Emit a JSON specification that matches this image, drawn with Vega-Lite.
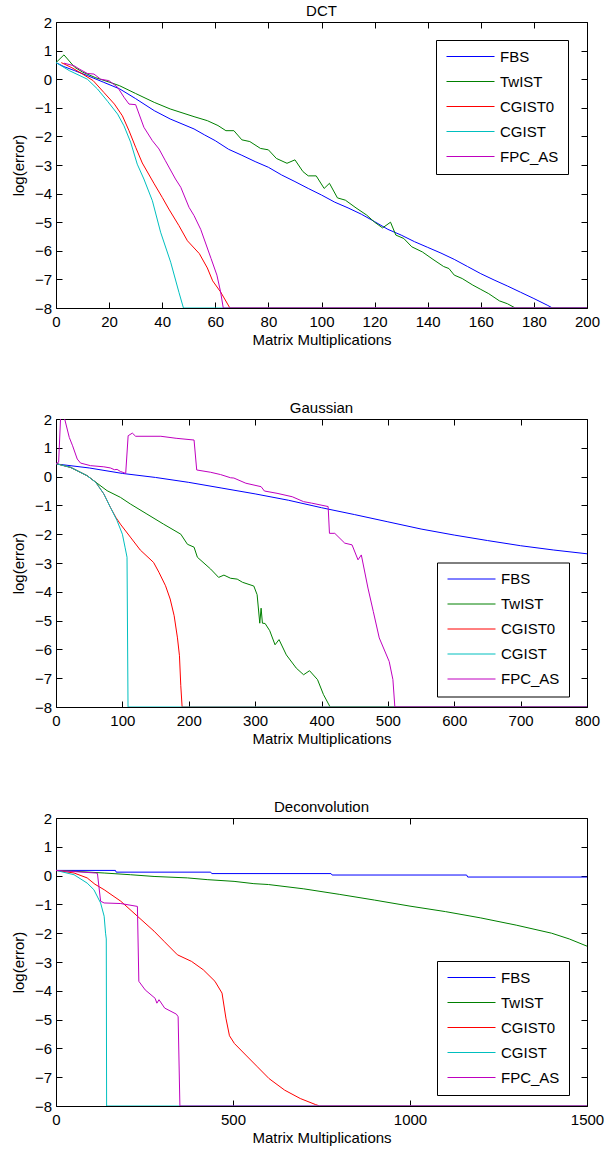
{
  "$schema": "https://vega.github.io/schema/vega-lite/v6.json",
  "background": "white",
  "padding": {"left": 10, "top": 3, "right": 12, "bottom": 2},
  "spacing": 52,
  "config": {
    "font": "Liberation Sans",
    "view": {"stroke": "black", "strokeWidth": 1},
    "axis": {"grid": false, "domain": false, "tickColor": "black", "tickSize": -6, "tickWidth": 1, "labelColor": "black", "labelFontSize": 15, "labelFlush": false, "labelOverlap": false, "titleFontSize": 15, "titleFontWeight": "normal", "titleColor": "black", "format": "d"},
    "axisX": {"titlePadding": 3, "labelPadding": 12.5},
    "axisY": {"titlePadding": 8, "labelPadding": 10.5},
    "title": {"fontSize": 15, "fontWeight": "normal", "color": "black", "offset": -4},
    "legend": {"title": null, "fillColor": "white", "strokeColor": "black", "padding": 9, "symbolType": "M-6,0H42", "symbolSize": 4, "symbolStrokeWidth": 1, "labelFontSize": 15, "labelColor": "black", "labelOffset": 40, "rowPadding": 9, "orient": "none"}
  },
  "data": {"values": [
    {"p":"DCT","s":"FBS","x":0,"y":0.58},{"p":"DCT","s":"FBS","x":3,"y":0.44},{"p":"DCT","s":"FBS","x":7,"y":0.3},{"p":"DCT","s":"FBS","x":12,"y":0.12},{"p":"DCT","s":"FBS","x":18,"y":-0.11},{"p":"DCT","s":"FBS","x":24,"y":-0.34},{"p":"DCT","s":"FBS","x":30,"y":-0.68},{"p":"DCT","s":"FBS","x":37,"y":-1.1},{"p":"DCT","s":"FBS","x":43,"y":-1.39},{"p":"DCT","s":"FBS","x":52,"y":-1.74},{"p":"DCT","s":"FBS","x":56,"y":-1.95},{"p":"DCT","s":"FBS","x":60,"y":-2.15},{"p":"DCT","s":"FBS","x":65,"y":-2.45},{"p":"DCT","s":"FBS","x":70,"y":-2.66},{"p":"DCT","s":"FBS","x":75,"y":-2.88},{"p":"DCT","s":"FBS","x":80,"y":-3.08},{"p":"DCT","s":"FBS","x":85,"y":-3.35},{"p":"DCT","s":"FBS","x":90,"y":-3.58},{"p":"DCT","s":"FBS","x":95,"y":-3.82},{"p":"DCT","s":"FBS","x":100,"y":-4.05},{"p":"DCT","s":"FBS","x":105,"y":-4.3},{"p":"DCT","s":"FBS","x":110,"y":-4.5},{"p":"DCT","s":"FBS","x":115,"y":-4.72},{"p":"DCT","s":"FBS","x":120,"y":-4.98},{"p":"DCT","s":"FBS","x":125,"y":-5.25},{"p":"DCT","s":"FBS","x":130,"y":-5.45},{"p":"DCT","s":"FBS","x":135,"y":-5.68},{"p":"DCT","s":"FBS","x":140,"y":-5.88},{"p":"DCT","s":"FBS","x":145,"y":-6.08},{"p":"DCT","s":"FBS","x":150,"y":-6.3},{"p":"DCT","s":"FBS","x":155,"y":-6.55},{"p":"DCT","s":"FBS","x":160,"y":-6.8},{"p":"DCT","s":"FBS","x":165,"y":-7.02},{"p":"DCT","s":"FBS","x":170,"y":-7.23},{"p":"DCT","s":"FBS","x":175,"y":-7.45},{"p":"DCT","s":"FBS","x":180,"y":-7.67},{"p":"DCT","s":"FBS","x":185,"y":-7.9},{"p":"DCT","s":"FBS","x":187,"y":-8},{"p":"DCT","s":"FBS","x":200,"y":-8},
    {"p":"DCT","s":"TwIST","x":0,"y":0.58},{"p":"DCT","s":"TwIST","x":3,"y":0.85},{"p":"DCT","s":"TwIST","x":7,"y":0.42},{"p":"DCT","s":"TwIST","x":10,"y":0.25},{"p":"DCT","s":"TwIST","x":15,"y":0.05},{"p":"DCT","s":"TwIST","x":20,"y":-0.1},{"p":"DCT","s":"TwIST","x":24,"y":-0.23},{"p":"DCT","s":"TwIST","x":30,"y":-0.5},{"p":"DCT","s":"TwIST","x":37,"y":-0.81},{"p":"DCT","s":"TwIST","x":43,"y":-1.04},{"p":"DCT","s":"TwIST","x":52,"y":-1.31},{"p":"DCT","s":"TwIST","x":57,"y":-1.45},{"p":"DCT","s":"TwIST","x":61,"y":-1.62},{"p":"DCT","s":"TwIST","x":64,"y":-1.8},{"p":"DCT","s":"TwIST","x":67,"y":-1.8},{"p":"DCT","s":"TwIST","x":70,"y":-2.12},{"p":"DCT","s":"TwIST","x":73,"y":-2.18},{"p":"DCT","s":"TwIST","x":77,"y":-2.42},{"p":"DCT","s":"TwIST","x":80,"y":-2.47},{"p":"DCT","s":"TwIST","x":83,"y":-2.77},{"p":"DCT","s":"TwIST","x":87,"y":-2.94},{"p":"DCT","s":"TwIST","x":90,"y":-2.82},{"p":"DCT","s":"TwIST","x":93,"y":-3.23},{"p":"DCT","s":"TwIST","x":95,"y":-3.38},{"p":"DCT","s":"TwIST","x":98,"y":-3.38},{"p":"DCT","s":"TwIST","x":101,"y":-3.82},{"p":"DCT","s":"TwIST","x":103,"y":-3.64},{"p":"DCT","s":"TwIST","x":106,"y":-4.15},{"p":"DCT","s":"TwIST","x":109,"y":-4.23},{"p":"DCT","s":"TwIST","x":113,"y":-4.5},{"p":"DCT","s":"TwIST","x":117,"y":-4.75},{"p":"DCT","s":"TwIST","x":120,"y":-5.0},{"p":"DCT","s":"TwIST","x":123,"y":-5.2},{"p":"DCT","s":"TwIST","x":126,"y":-5.0},{"p":"DCT","s":"TwIST","x":128,"y":-5.45},{"p":"DCT","s":"TwIST","x":131,"y":-5.57},{"p":"DCT","s":"TwIST","x":134,"y":-5.86},{"p":"DCT","s":"TwIST","x":138,"y":-6.04},{"p":"DCT","s":"TwIST","x":142,"y":-6.3},{"p":"DCT","s":"TwIST","x":146,"y":-6.55},{"p":"DCT","s":"TwIST","x":148,"y":-6.62},{"p":"DCT","s":"TwIST","x":150,"y":-6.85},{"p":"DCT","s":"TwIST","x":153,"y":-6.97},{"p":"DCT","s":"TwIST","x":157,"y":-7.2},{"p":"DCT","s":"TwIST","x":160,"y":-7.35},{"p":"DCT","s":"TwIST","x":163,"y":-7.5},{"p":"DCT","s":"TwIST","x":167,"y":-7.75},{"p":"DCT","s":"TwIST","x":170,"y":-7.85},{"p":"DCT","s":"TwIST","x":173,"y":-8},{"p":"DCT","s":"TwIST","x":200,"y":-8},
    {"p":"DCT","s":"CGIST0","x":2,"y":0.58},{"p":"DCT","s":"CGIST0","x":6,"y":0.4},{"p":"DCT","s":"CGIST0","x":10,"y":0.18},{"p":"DCT","s":"CGIST0","x":14,"y":-0.05},{"p":"DCT","s":"CGIST0","x":18,"y":-0.46},{"p":"DCT","s":"CGIST0","x":22,"y":-0.87},{"p":"DCT","s":"CGIST0","x":25,"y":-1.28},{"p":"DCT","s":"CGIST0","x":27.5,"y":-1.8},{"p":"DCT","s":"CGIST0","x":30,"y":-2.38},{"p":"DCT","s":"CGIST0","x":32.5,"y":-2.93},{"p":"DCT","s":"CGIST0","x":37,"y":-3.66},{"p":"DCT","s":"CGIST0","x":40,"y":-4.13},{"p":"DCT","s":"CGIST0","x":42.5,"y":-4.54},{"p":"DCT","s":"CGIST0","x":46.3,"y":-5.12},{"p":"DCT","s":"CGIST0","x":49.5,"y":-5.65},{"p":"DCT","s":"CGIST0","x":54,"y":-6.1},{"p":"DCT","s":"CGIST0","x":57,"y":-6.6},{"p":"DCT","s":"CGIST0","x":59,"y":-7.05},{"p":"DCT","s":"CGIST0","x":62,"y":-7.44},{"p":"DCT","s":"CGIST0","x":65.5,"y":-8},{"p":"DCT","s":"CGIST0","x":200,"y":-8},
    {"p":"DCT","s":"CGIST","x":0,"y":0.58},{"p":"DCT","s":"CGIST","x":5,"y":0.3},{"p":"DCT","s":"CGIST","x":11.8,"y":0.0},{"p":"DCT","s":"CGIST","x":15.6,"y":-0.34},{"p":"DCT","s":"CGIST","x":19.4,"y":-0.77},{"p":"DCT","s":"CGIST","x":23.2,"y":-1.22},{"p":"DCT","s":"CGIST","x":25.6,"y":-1.63},{"p":"DCT","s":"CGIST","x":28.1,"y":-2.2},{"p":"DCT","s":"CGIST","x":30.6,"y":-2.97},{"p":"DCT","s":"CGIST","x":33.1,"y":-3.49},{"p":"DCT","s":"CGIST","x":36.3,"y":-4.25},{"p":"DCT","s":"CGIST","x":39.4,"y":-5.35},{"p":"DCT","s":"CGIST","x":43.2,"y":-6.4},{"p":"DCT","s":"CGIST","x":46.3,"y":-7.45},{"p":"DCT","s":"CGIST","x":48,"y":-8},{"p":"DCT","s":"CGIST","x":200,"y":-8},
    {"p":"DCT","s":"FPC_AS","x":3,"y":0.56},{"p":"DCT","s":"FPC_AS","x":6.8,"y":0.47},{"p":"DCT","s":"FPC_AS","x":8.7,"y":0.36},{"p":"DCT","s":"FPC_AS","x":11.8,"y":0.2},{"p":"DCT","s":"FPC_AS","x":14.3,"y":0.18},{"p":"DCT","s":"FPC_AS","x":16.8,"y":0.0},{"p":"DCT","s":"FPC_AS","x":19.9,"y":-0.05},{"p":"DCT","s":"FPC_AS","x":23.2,"y":-0.28},{"p":"DCT","s":"FPC_AS","x":25.6,"y":-0.63},{"p":"DCT","s":"FPC_AS","x":27.5,"y":-0.87},{"p":"DCT","s":"FPC_AS","x":30,"y":-0.89},{"p":"DCT","s":"FPC_AS","x":33.1,"y":-1.68},{"p":"DCT","s":"FPC_AS","x":36.3,"y":-2.15},{"p":"DCT","s":"FPC_AS","x":38.8,"y":-2.44},{"p":"DCT","s":"FPC_AS","x":41.2,"y":-2.85},{"p":"DCT","s":"FPC_AS","x":45,"y":-3.49},{"p":"DCT","s":"FPC_AS","x":47,"y":-3.78},{"p":"DCT","s":"FPC_AS","x":50.1,"y":-4.48},{"p":"DCT","s":"FPC_AS","x":52,"y":-4.77},{"p":"DCT","s":"FPC_AS","x":54.5,"y":-5.25},{"p":"DCT","s":"FPC_AS","x":58.4,"y":-6.27},{"p":"DCT","s":"FPC_AS","x":60.6,"y":-6.85},{"p":"DCT","s":"FPC_AS","x":62,"y":-7.44},{"p":"DCT","s":"FPC_AS","x":63,"y":-8},{"p":"DCT","s":"FPC_AS","x":200,"y":-8},
    {"p":"Gaussian","s":"FBS","x":0,"y":0.44},{"p":"Gaussian","s":"FBS","x":50,"y":0.3},{"p":"Gaussian","s":"FBS","x":100,"y":0.11},{"p":"Gaussian","s":"FBS","x":150,"y":-0.03},{"p":"Gaussian","s":"FBS","x":200,"y":-0.2},{"p":"Gaussian","s":"FBS","x":250,"y":-0.4},{"p":"Gaussian","s":"FBS","x":300,"y":-0.6},{"p":"Gaussian","s":"FBS","x":350,"y":-0.82},{"p":"Gaussian","s":"FBS","x":400,"y":-1.08},{"p":"Gaussian","s":"FBS","x":450,"y":-1.32},{"p":"Gaussian","s":"FBS","x":500,"y":-1.57},{"p":"Gaussian","s":"FBS","x":550,"y":-1.82},{"p":"Gaussian","s":"FBS","x":600,"y":-2.03},{"p":"Gaussian","s":"FBS","x":650,"y":-2.22},{"p":"Gaussian","s":"FBS","x":700,"y":-2.4},{"p":"Gaussian","s":"FBS","x":750,"y":-2.55},{"p":"Gaussian","s":"FBS","x":800,"y":-2.68},
    {"p":"Gaussian","s":"TwIST","x":0,"y":0.45},{"p":"Gaussian","s":"TwIST","x":22,"y":0.32},{"p":"Gaussian","s":"TwIST","x":47,"y":0.03},{"p":"Gaussian","s":"TwIST","x":62,"y":-0.23},{"p":"Gaussian","s":"TwIST","x":77,"y":-0.49},{"p":"Gaussian","s":"TwIST","x":97,"y":-0.72},{"p":"Gaussian","s":"TwIST","x":112,"y":-0.95},{"p":"Gaussian","s":"TwIST","x":137,"y":-1.3},{"p":"Gaussian","s":"TwIST","x":162,"y":-1.65},{"p":"Gaussian","s":"TwIST","x":188,"y":-2.0},{"p":"Gaussian","s":"TwIST","x":198,"y":-2.35},{"p":"Gaussian","s":"TwIST","x":208,"y":-2.45},{"p":"Gaussian","s":"TwIST","x":213,"y":-2.8},{"p":"Gaussian","s":"TwIST","x":233,"y":-3.21},{"p":"Gaussian","s":"TwIST","x":245,"y":-3.5},{"p":"Gaussian","s":"TwIST","x":253,"y":-3.42},{"p":"Gaussian","s":"TwIST","x":263,"y":-3.53},{"p":"Gaussian","s":"TwIST","x":273,"y":-3.56},{"p":"Gaussian","s":"TwIST","x":281,"y":-3.67},{"p":"Gaussian","s":"TwIST","x":298,"y":-3.8},{"p":"Gaussian","s":"TwIST","x":303,"y":-4.1},{"p":"Gaussian","s":"TwIST","x":307,"y":-5.09},{"p":"Gaussian","s":"TwIST","x":309,"y":-4.57},{"p":"Gaussian","s":"TwIST","x":311,"y":-5.09},{"p":"Gaussian","s":"TwIST","x":315,"y":-5.1},{"p":"Gaussian","s":"TwIST","x":322,"y":-5.35},{"p":"Gaussian","s":"TwIST","x":330,"y":-5.84},{"p":"Gaussian","s":"TwIST","x":336,"y":-5.66},{"p":"Gaussian","s":"TwIST","x":347,"y":-6.19},{"p":"Gaussian","s":"TwIST","x":362,"y":-6.65},{"p":"Gaussian","s":"TwIST","x":373,"y":-6.88},{"p":"Gaussian","s":"TwIST","x":382,"y":-6.74},{"p":"Gaussian","s":"TwIST","x":394,"y":-7.05},{"p":"Gaussian","s":"TwIST","x":403,"y":-7.57},{"p":"Gaussian","s":"TwIST","x":413,"y":-8},{"p":"Gaussian","s":"TwIST","x":800,"y":-8},
    {"p":"Gaussian","s":"CGIST0","x":0,"y":0.45},{"p":"Gaussian","s":"CGIST0","x":22,"y":0.32},{"p":"Gaussian","s":"CGIST0","x":47,"y":0.03},{"p":"Gaussian","s":"CGIST0","x":60,"y":-0.2},{"p":"Gaussian","s":"CGIST0","x":72,"y":-0.6},{"p":"Gaussian","s":"CGIST0","x":82,"y":-1.07},{"p":"Gaussian","s":"CGIST0","x":90,"y":-1.41},{"p":"Gaussian","s":"CGIST0","x":97,"y":-1.65},{"p":"Gaussian","s":"CGIST0","x":112,"y":-2.1},{"p":"Gaussian","s":"CGIST0","x":127,"y":-2.55},{"p":"Gaussian","s":"CGIST0","x":147,"y":-2.98},{"p":"Gaussian","s":"CGIST0","x":155,"y":-3.32},{"p":"Gaussian","s":"CGIST0","x":165,"y":-3.79},{"p":"Gaussian","s":"CGIST0","x":172,"y":-4.25},{"p":"Gaussian","s":"CGIST0","x":178,"y":-4.83},{"p":"Gaussian","s":"CGIST0","x":183,"y":-5.6},{"p":"Gaussian","s":"CGIST0","x":186,"y":-6.22},{"p":"Gaussian","s":"CGIST0","x":188,"y":-7.26},{"p":"Gaussian","s":"CGIST0","x":190,"y":-8},{"p":"Gaussian","s":"CGIST0","x":800,"y":-8},
    {"p":"Gaussian","s":"CGIST","x":0,"y":0.45},{"p":"Gaussian","s":"CGIST","x":22,"y":0.32},{"p":"Gaussian","s":"CGIST","x":47,"y":0.03},{"p":"Gaussian","s":"CGIST","x":60,"y":-0.2},{"p":"Gaussian","s":"CGIST","x":72,"y":-0.6},{"p":"Gaussian","s":"CGIST","x":82,"y":-1.07},{"p":"Gaussian","s":"CGIST","x":92,"y":-1.53},{"p":"Gaussian","s":"CGIST","x":100,"y":-2.0},{"p":"Gaussian","s":"CGIST","x":104,"y":-2.45},{"p":"Gaussian","s":"CGIST","x":107,"y":-2.8},{"p":"Gaussian","s":"CGIST","x":108.5,"y":-8},{"p":"Gaussian","s":"CGIST","x":800,"y":-8},
    {"p":"Gaussian","s":"FPC_AS","x":0,"y":0.45},{"p":"Gaussian","s":"FPC_AS","x":4,"y":0.5},{"p":"Gaussian","s":"FPC_AS","x":7,"y":2.1},{"p":"Gaussian","s":"FPC_AS","x":12,"y":2.1},{"p":"Gaussian","s":"FPC_AS","x":20,"y":1.36},{"p":"Gaussian","s":"FPC_AS","x":25,"y":1.07},{"p":"Gaussian","s":"FPC_AS","x":32,"y":0.61},{"p":"Gaussian","s":"FPC_AS","x":37,"y":0.47},{"p":"Gaussian","s":"FPC_AS","x":52,"y":0.38},{"p":"Gaussian","s":"FPC_AS","x":72,"y":0.34},{"p":"Gaussian","s":"FPC_AS","x":82,"y":0.3},{"p":"Gaussian","s":"FPC_AS","x":88,"y":0.24},{"p":"Gaussian","s":"FPC_AS","x":92,"y":0.25},{"p":"Gaussian","s":"FPC_AS","x":97,"y":0.18},{"p":"Gaussian","s":"FPC_AS","x":105,"y":0.11},{"p":"Gaussian","s":"FPC_AS","x":108.7,"y":1.42},{"p":"Gaussian","s":"FPC_AS","x":115,"y":1.51},{"p":"Gaussian","s":"FPC_AS","x":120,"y":1.4},{"p":"Gaussian","s":"FPC_AS","x":158,"y":1.4},{"p":"Gaussian","s":"FPC_AS","x":181,"y":1.33},{"p":"Gaussian","s":"FPC_AS","x":208,"y":1.27},{"p":"Gaussian","s":"FPC_AS","x":212,"y":0.23},{"p":"Gaussian","s":"FPC_AS","x":233,"y":0.15},{"p":"Gaussian","s":"FPC_AS","x":248,"y":0.07},{"p":"Gaussian","s":"FPC_AS","x":263,"y":-0.04},{"p":"Gaussian","s":"FPC_AS","x":268,"y":-0.05},{"p":"Gaussian","s":"FPC_AS","x":286,"y":-0.23},{"p":"Gaussian","s":"FPC_AS","x":309,"y":-0.35},{"p":"Gaussian","s":"FPC_AS","x":314,"y":-0.5},{"p":"Gaussian","s":"FPC_AS","x":333,"y":-0.58},{"p":"Gaussian","s":"FPC_AS","x":356,"y":-0.7},{"p":"Gaussian","s":"FPC_AS","x":373,"y":-0.87},{"p":"Gaussian","s":"FPC_AS","x":385,"y":-0.92},{"p":"Gaussian","s":"FPC_AS","x":410,"y":-1.04},{"p":"Gaussian","s":"FPC_AS","x":412,"y":-1.97},{"p":"Gaussian","s":"FPC_AS","x":420,"y":-1.97},{"p":"Gaussian","s":"FPC_AS","x":435,"y":-2.31},{"p":"Gaussian","s":"FPC_AS","x":446,"y":-2.37},{"p":"Gaussian","s":"FPC_AS","x":455,"y":-2.89},{"p":"Gaussian","s":"FPC_AS","x":460,"y":-2.72},{"p":"Gaussian","s":"FPC_AS","x":470,"y":-3.87},{"p":"Gaussian","s":"FPC_AS","x":478,"y":-4.68},{"p":"Gaussian","s":"FPC_AS","x":487,"y":-5.6},{"p":"Gaussian","s":"FPC_AS","x":502,"y":-6.42},{"p":"Gaussian","s":"FPC_AS","x":507.6,"y":-7.05},{"p":"Gaussian","s":"FPC_AS","x":510.5,"y":-8},{"p":"Gaussian","s":"FPC_AS","x":800,"y":-8},
    {"p":"Deconvolution","s":"FBS","x":0,"y":0.18},{"p":"Deconvolution","s":"FBS","x":168,"y":0.18},{"p":"Deconvolution","s":"FBS","x":170,"y":0.12},{"p":"Deconvolution","s":"FBS","x":437,"y":0.12},{"p":"Deconvolution","s":"FBS","x":440,"y":0.07},{"p":"Deconvolution","s":"FBS","x":777,"y":0.07},{"p":"Deconvolution","s":"FBS","x":780,"y":0.02},{"p":"Deconvolution","s":"FBS","x":1160,"y":0.02},{"p":"Deconvolution","s":"FBS","x":1163,"y":-0.05},{"p":"Deconvolution","s":"FBS","x":1500,"y":-0.05},
    {"p":"Deconvolution","s":"TwIST","x":0,"y":0.18},{"p":"Deconvolution","s":"TwIST","x":50,"y":0.15},{"p":"Deconvolution","s":"TwIST","x":136,"y":0.09},{"p":"Deconvolution","s":"TwIST","x":211,"y":0.03},{"p":"Deconvolution","s":"TwIST","x":277,"y":-0.03},{"p":"Deconvolution","s":"TwIST","x":371,"y":-0.08},{"p":"Deconvolution","s":"TwIST","x":427,"y":-0.14},{"p":"Deconvolution","s":"TwIST","x":503,"y":-0.2},{"p":"Deconvolution","s":"TwIST","x":559,"y":-0.28},{"p":"Deconvolution","s":"TwIST","x":600,"y":-0.31},{"p":"Deconvolution","s":"TwIST","x":700,"y":-0.46},{"p":"Deconvolution","s":"TwIST","x":800,"y":-0.65},{"p":"Deconvolution","s":"TwIST","x":900,"y":-0.85},{"p":"Deconvolution","s":"TwIST","x":1000,"y":-1.06},{"p":"Deconvolution","s":"TwIST","x":1100,"y":-1.25},{"p":"Deconvolution","s":"TwIST","x":1200,"y":-1.47},{"p":"Deconvolution","s":"TwIST","x":1300,"y":-1.72},{"p":"Deconvolution","s":"TwIST","x":1400,"y":-2.0},{"p":"Deconvolution","s":"TwIST","x":1450,"y":-2.2},{"p":"Deconvolution","s":"TwIST","x":1500,"y":-2.45},
    {"p":"Deconvolution","s":"CGIST0","x":0,"y":0.18},{"p":"Deconvolution","s":"CGIST0","x":51,"y":0.09},{"p":"Deconvolution","s":"CGIST0","x":88,"y":-0.08},{"p":"Deconvolution","s":"CGIST0","x":110,"y":-0.3},{"p":"Deconvolution","s":"CGIST0","x":136,"y":-0.49},{"p":"Deconvolution","s":"CGIST0","x":183,"y":-0.89},{"p":"Deconvolution","s":"CGIST0","x":230,"y":-1.41},{"p":"Deconvolution","s":"CGIST0","x":277,"y":-1.93},{"p":"Deconvolution","s":"CGIST0","x":305,"y":-2.28},{"p":"Deconvolution","s":"CGIST0","x":343,"y":-2.75},{"p":"Deconvolution","s":"CGIST0","x":383,"y":-2.98},{"p":"Deconvolution","s":"CGIST0","x":416,"y":-3.27},{"p":"Deconvolution","s":"CGIST0","x":449,"y":-3.67},{"p":"Deconvolution","s":"CGIST0","x":469,"y":-4.08},{"p":"Deconvolution","s":"CGIST0","x":480,"y":-4.95},{"p":"Deconvolution","s":"CGIST0","x":490,"y":-5.56},{"p":"Deconvolution","s":"CGIST0","x":504,"y":-5.83},{"p":"Deconvolution","s":"CGIST0","x":536,"y":-6.23},{"p":"Deconvolution","s":"CGIST0","x":569,"y":-6.64},{"p":"Deconvolution","s":"CGIST0","x":602,"y":-7.05},{"p":"Deconvolution","s":"CGIST0","x":646,"y":-7.45},{"p":"Deconvolution","s":"CGIST0","x":690,"y":-7.74},{"p":"Deconvolution","s":"CGIST0","x":733,"y":-7.95},{"p":"Deconvolution","s":"CGIST0","x":745,"y":-8},{"p":"Deconvolution","s":"CGIST0","x":1500,"y":-8},
    {"p":"Deconvolution","s":"CGIST","x":0,"y":0.18},{"p":"Deconvolution","s":"CGIST","x":51,"y":0.03},{"p":"Deconvolution","s":"CGIST","x":88,"y":-0.26},{"p":"Deconvolution","s":"CGIST","x":107,"y":-0.49},{"p":"Deconvolution","s":"CGIST","x":126,"y":-0.95},{"p":"Deconvolution","s":"CGIST","x":136,"y":-1.41},{"p":"Deconvolution","s":"CGIST","x":140,"y":-2.0},{"p":"Deconvolution","s":"CGIST","x":142,"y":-2.2},{"p":"Deconvolution","s":"CGIST","x":143,"y":-8},{"p":"Deconvolution","s":"CGIST","x":1500,"y":-8},
    {"p":"Deconvolution","s":"FPC_AS","x":0,"y":0.18},{"p":"Deconvolution","s":"FPC_AS","x":112,"y":0.09},{"p":"Deconvolution","s":"FPC_AS","x":117,"y":0.08},{"p":"Deconvolution","s":"FPC_AS","x":126,"y":-0.89},{"p":"Deconvolution","s":"FPC_AS","x":136,"y":-0.95},{"p":"Deconvolution","s":"FPC_AS","x":183,"y":-0.97},{"p":"Deconvolution","s":"FPC_AS","x":230,"y":-1.07},{"p":"Deconvolution","s":"FPC_AS","x":234,"y":-3.67},{"p":"Deconvolution","s":"FPC_AS","x":252,"y":-3.97},{"p":"Deconvolution","s":"FPC_AS","x":280,"y":-4.26},{"p":"Deconvolution","s":"FPC_AS","x":285,"y":-4.43},{"p":"Deconvolution","s":"FPC_AS","x":291,"y":-4.31},{"p":"Deconvolution","s":"FPC_AS","x":307,"y":-4.6},{"p":"Deconvolution","s":"FPC_AS","x":340,"y":-4.81},{"p":"Deconvolution","s":"FPC_AS","x":345,"y":-4.9},{"p":"Deconvolution","s":"FPC_AS","x":350,"y":-8},{"p":"Deconvolution","s":"FPC_AS","x":1500,"y":-8}
  ]},
  "vconcat": [
    {
      "title": "DCT",
      "width": 531, "height": 286,
      "transform": [{"filter": "datum.p == 'DCT'"}],
      "layer": [
        {"mark": {"type": "line", "clip": true, "strokeWidth": 1},
         "encoding": {
           "x": {"field": "x", "type": "quantitative", "scale": {"domain": [0, 200], "nice": false, "zero": false}, "axis": {"values": [0,20,40,60,80,100,120,140,160,180,200], "title": "Matrix Multiplications"}},
           "y": {"field": "y", "type": "quantitative", "scale": {"domain": [-8, 2], "nice": false, "zero": false}, "axis": {"values": [-8,-7,-6,-5,-4,-3,-2,-1,0,1,2], "title": "log(error)"}},
           "color": {"field": "s", "type": "nominal", "sort": null, "scale": {"domain": ["FBS","TwIST","CGIST0","CGIST","FPC_AS"], "range": ["#0000ff","#008000","#ff0000","#00bfbf","#bf00bf"]}, "legend": {"legendX": 380, "legendY": 18}}
         }},
        {"mark": {"type": "point", "opacity": 0},
         "encoding": {
           "x": {"field": "x", "type": "quantitative", "scale": {"domain": [0, 200], "nice": false, "zero": false}, "axis": {"orient": "top", "values": [0,20,40,60,80,100,120,140,160,180,200], "labels": false, "title": null}},
           "y": {"field": "y", "type": "quantitative", "scale": {"domain": [-8, 2], "nice": false, "zero": false}, "axis": {"orient": "right", "values": [-8,-7,-6,-5,-4,-3,-2,-1,0,1,2], "labels": false, "title": null}}
         }}
      ],
      "resolve": {"axis": {"x": "independent", "y": "independent"}}
    },
    {
      "title": "Gaussian",
      "width": 531, "height": 288,
      "transform": [{"filter": "datum.p == 'Gaussian'"}],
      "layer": [
        {"mark": {"type": "line", "clip": true, "strokeWidth": 1},
         "encoding": {
           "x": {"field": "x", "type": "quantitative", "scale": {"domain": [0, 800], "nice": false, "zero": false}, "axis": {"values": [0,100,200,300,400,500,600,700,800], "title": "Matrix Multiplications"}},
           "y": {"field": "y", "type": "quantitative", "scale": {"domain": [-8, 2], "nice": false, "zero": false}, "axis": {"values": [-8,-7,-6,-5,-4,-3,-2,-1,0,1,2], "title": "log(error)"}},
           "color": {"field": "s", "type": "nominal", "sort": null, "scale": {"domain": ["FBS","TwIST","CGIST0","CGIST","FPC_AS"], "range": ["#0000ff","#008000","#ff0000","#00bfbf","#bf00bf"]}, "legend": {"legendX": 381, "legendY": 143.5}}
         }},
        {"mark": {"type": "point", "opacity": 0},
         "encoding": {
           "x": {"field": "x", "type": "quantitative", "scale": {"domain": [0, 800], "nice": false, "zero": false}, "axis": {"orient": "top", "values": [0,100,200,300,400,500,600,700,800], "labels": false, "title": null}},
           "y": {"field": "y", "type": "quantitative", "scale": {"domain": [-8, 2], "nice": false, "zero": false}, "axis": {"orient": "right", "values": [-8,-7,-6,-5,-4,-3,-2,-1,0,1,2], "labels": false, "title": null}}
         }}
      ],
      "resolve": {"axis": {"x": "independent", "y": "independent"}}
    },
    {
      "title": "Deconvolution",
      "width": 531, "height": 288,
      "transform": [{"filter": "datum.p == 'Deconvolution'"}],
      "layer": [
        {"mark": {"type": "line", "clip": true, "strokeWidth": 1},
         "encoding": {
           "x": {"field": "x", "type": "quantitative", "scale": {"domain": [0, 1500], "nice": false, "zero": false}, "axis": {"values": [0,500,1000,1500], "title": "Matrix Multiplications"}},
           "y": {"field": "y", "type": "quantitative", "scale": {"domain": [-8, 2], "nice": false, "zero": false}, "axis": {"values": [-8,-7,-6,-5,-4,-3,-2,-1,0,1,2], "title": "log(error)"}},
           "color": {"field": "s", "type": "nominal", "sort": null, "scale": {"domain": ["FBS","TwIST","CGIST0","CGIST","FPC_AS"], "range": ["#0000ff","#008000","#ff0000","#00bfbf","#bf00bf"]}, "legend": {"legendX": 381, "legendY": 143}}
         }},
        {"mark": {"type": "point", "opacity": 0},
         "encoding": {
           "x": {"field": "x", "type": "quantitative", "scale": {"domain": [0, 1500], "nice": false, "zero": false}, "axis": {"orient": "top", "values": [0,500,1000,1500], "labels": false, "title": null}},
           "y": {"field": "y", "type": "quantitative", "scale": {"domain": [-8, 2], "nice": false, "zero": false}, "axis": {"orient": "right", "values": [-8,-7,-6,-5,-4,-3,-2,-1,0,1,2], "labels": false, "title": null}}
         }}
      ],
      "resolve": {"axis": {"x": "independent", "y": "independent"}}
    }
  ],
  "resolve": {"scale": {"color": "independent"}}
}
